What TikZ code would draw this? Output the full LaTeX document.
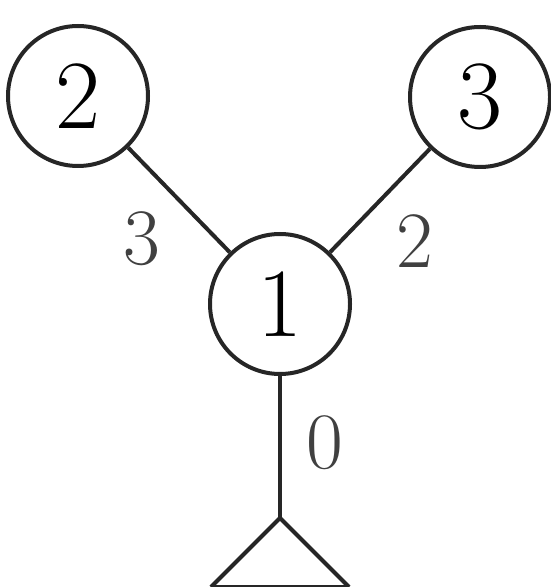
\documentclass[tikz,border=0pt]{standalone}
\usepackage{fontspec}
\begin{document}
\begin{tikzpicture}[x=0.5pt,y=-0.5pt,
  edge/.style={line width=2pt, draw=black!85},
  vert/.style={circle, draw=black!85, line width=2pt, minimum size=70pt, inner sep=0pt,
    font=\fontsize{49}{52}\selectfont},
  elabel/.style={inner sep=0pt, text=black!75, font=\fontsize{40}{44}\selectfont}]
\useasboundingbox (0,0) rectangle (550,587);
\node[vert] (n2) at (78,96) {2};
\node[vert] (n3) at (480,97) {3};
\node[vert] (n1) at (280,304) {1};
\coordinate (root) at (280,518);
\coordinate (bl) at (211,587);
\coordinate (br) at (349,587);
\draw[edge] (n1) -- (n2);
\draw[edge] (n1) -- (n3);
\draw[edge] (n1) -- (root);
\draw[edge, line join=miter] (bl) -- (root) -- (br);
\draw[edge] (bl) -- (br);
\node[elabel] (l3) at (142,239) {3};
\node[elabel] (l2) at (415,241) {2};
\node[elabel] (l0) at (325,443) {0};
\end{tikzpicture}
\end{document}
